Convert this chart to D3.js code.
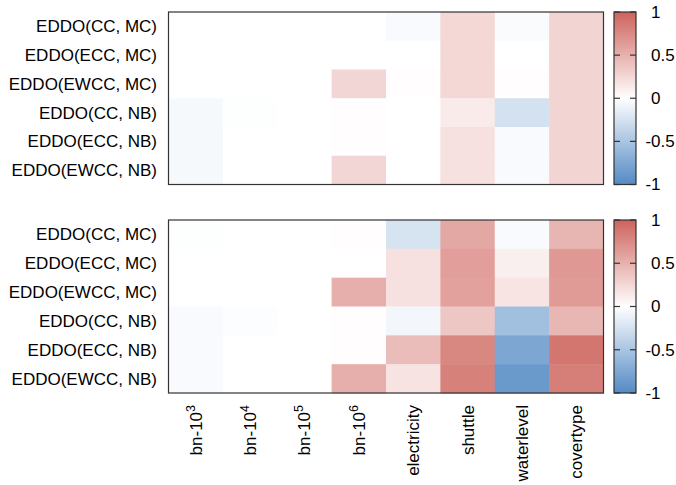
<!DOCTYPE html>
<html>
<head>
<meta charset="utf-8">
<script src="https://cdn.jsdelivr.net/npm/d3@7"></script>
<style>
  body { margin: 0; background: #fff; }
  text { font-family: "Liberation Sans", Arial, Helvetica, sans-serif; fill: #000; }
</style>
</head>
<body>
<svg id="chart" width="676" height="485"></svg>
<script>
// row / column labels
var rows = ["EDDO(CC, MC)", "EDDO(ECC, MC)", "EDDO(EWCC, MC)", "EDDO(CC, NB)", "EDDO(ECC, NB)", "EDDO(EWCC, NB)"];
var cols = [
  {base: "bn-10", sup: "3"}, {base: "bn-10", sup: "4"}, {base: "bn-10", sup: "5"}, {base: "bn-10", sup: "6"},
  {base: "electricity", sup: ""}, {base: "shuttle", sup: ""}, {base: "waterlevel", sup: ""}, {base: "covertype", sup: ""}
];
var cbTicks = [1, 0.5, 0, -0.5, -1];

// values (rows x columns)
var topValues = [
  [0, 0, 0, 0, -0.04, 0.25, -0.03, 0.27],
  [0, 0, 0, 0, 0, 0.25, 0, 0.27],
  [0, 0, 0, 0.26, 0.01, 0.25, 0.01, 0.27],
  [-0.05, -0.01, 0, 0.01, 0, 0.13, -0.26, 0.27],
  [-0.05, 0, 0, 0.01, 0, 0.19, -0.04, 0.27],
  [-0.05, 0, 0, 0.26, 0, 0.19, -0.04, 0.27]
];
var bottomValues = [
  [-0.01, 0, 0, 0.01, -0.24, 0.56, -0.04, 0.47],
  [0, 0, 0, 0, 0.19, 0.62, 0.1, 0.66],
  [0, 0, 0, 0.51, 0.19, 0.6, 0.17, 0.64],
  [-0.04, -0.02, 0, 0.01, -0.07, 0.36, -0.55, 0.46],
  [-0.04, 0, 0, 0.01, 0.42, 0.77, -0.76, 0.88],
  [-0.04, 0, 0, 0.51, 0.18, 0.81, -0.87, 0.83]
];

var svg = d3.select("#chart");
var color = d3.scaleLinear().domain([-1, 0, 1]).range(["#548ac4", "#ffffff", "#ce635c"]);

var left = 168.5, right = 603.5;
var cbX = 614, cbW = 22;
var fs = 17;
var x = d3.scaleBand().domain(d3.range(cols.length)).range([left, right]);

// gradient for the colour box
var grad = svg.append("defs").append("linearGradient")
    .attr("id", "cbgrad").attr("x1", 0).attr("y1", 1).attr("x2", 0).attr("y2", 0);
d3.range(-1, 1.001, 0.1).forEach(function (v) {
  grad.append("stop").attr("offset", (v + 1) / 2).attr("stop-color", color(v));
});

function panel(values, top, bottom) {
  var y = d3.scaleBand().domain(d3.range(rows.length)).range([top, bottom]);
  var g = svg.append("g");

  values.forEach(function (row, i) {
    g.selectAll(null).data(row).enter().append("rect")
      .attr("x", function (d, j) { return x(j); })
      .attr("y", y(i))
      .attr("width", x.bandwidth() + 0.5)
      .attr("height", y.bandwidth() + 0.5)
      .attr("fill", function (d) { return color(d); });
  });

  g.append("rect")
    .attr("x", left).attr("y", top).attr("width", right - left).attr("height", bottom - top)
    .attr("fill", "none").attr("stroke", "#333").attr("stroke-width", 1.2);

  g.selectAll(".rowlab").data(rows).enter().append("text")
    .attr("x", 157)
    .attr("y", function (d, i) { return y(i) + y.bandwidth() / 2; })
    .attr("dy", "0.35em")
    .attr("text-anchor", "end")
    .attr("font-size", fs)
    .text(function (d) { return d; });

  // colour box
  var cy = d3.scaleLinear().domain([-1, 1]).range([bottom, top]);
  g.append("rect")
    .attr("x", cbX).attr("y", top).attr("width", cbW).attr("height", bottom - top)
    .attr("fill", "url(#cbgrad)").attr("stroke", "#333").attr("stroke-width", 1.2);

  cbTicks.forEach(function (t) {
    g.append("line")
      .attr("x1", cbX).attr("x2", cbX + 6)
      .attr("y1", cy(t)).attr("y2", cy(t))
      .attr("stroke", "#333").attr("stroke-width", 1.2);
    g.append("line")
      .attr("x1", cbX + cbW - 6).attr("x2", cbX + cbW)
      .attr("y1", cy(t)).attr("y2", cy(t))
      .attr("stroke", "#333").attr("stroke-width", 1.2);
    g.append("text")
      .attr("x", 651)
      .attr("dx", t < 0 ? "-0.33em" : 0)
      .attr("y", cy(t))
      .attr("dy", "0.35em")
      .attr("font-size", fs)
      .text(t);
  });
}

panel(topValues, 12, 184.5);
panel(bottomValues, 220, 393);

// column labels, rotated
var xl = svg.selectAll(".collab").data(cols).enter().append("text")
  .attr("transform", function (d, j) { return "translate(" + (x(j) + x.bandwidth() / 2) + ",405) rotate(-90)"; })
  .attr("dy", "0.35em")
  .attr("text-anchor", "end")
  .attr("font-size", fs);
xl.append("tspan").text(function (d) { return d.base; });
xl.append("tspan")
  .attr("baseline-shift", "super")
  .attr("font-size", 12.5)
  .text(function (d) { return d.sup; });
</script>
</body>
</html>
